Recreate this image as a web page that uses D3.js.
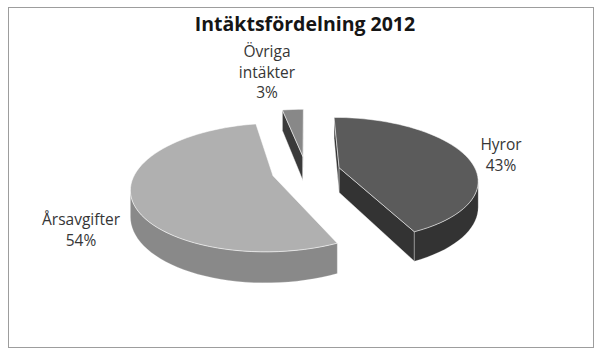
<!DOCTYPE html>
<html><head><meta charset="utf-8">
<script src="https://cdn.jsdelivr.net/npm/d3@7"></script>
<style>html,body{margin:0;padding:0;background:#fff}svg{display:block}</style>
</head><body>
<svg id="chart" width="600" height="350"></svg>
<script>
// ---- data ----
const chartTitle = "Intäktsfördelning 2012";
const categories = ["Hyror", "Årsavgifter", "Övriga intäkter"];
const values = [43, 54, 3];
const percentLabels = ["43%", "54%", "3%"];
const labelLines = [["Hyror"], ["Årsavgifter"], ["Övriga", "intäkter"]];

// ---- style / layout ----
const topColors = ["#5b5b5b", "#b0b0b0", "#888888"];
const sideColors = ["#333333", "#898989", "#3a3a3a"];
const P = {cx: 306, cy: 171, h: 137, s: 60.5, k: 0.18, depth: 25, explode: 0.25};
const labelLayout = [
  {x: 501, y: 150}, {x: 81, y: 225}, {x: 267, y: 57}
];
const lineGap = 20.5;

const svg = d3.select("#chart");
svg.append("rect").attr("x", 8.5).attr("y", 7.5).attr("width", 585).attr("height", 340)
  .attr("fill", "#fff").attr("stroke", "#9d9d9d").attr("stroke-width", 1);

svg.append("text").attr("x", 305).attr("y", 31).attr("text-anchor", "middle")
  .attr("font-family", "'Open Sans', sans-serif").attr("font-weight", 700)
  .attr("font-size", 19.5).attr("fill", "#151515").text(chartTitle);

// scales for projected plane coordinates
const xS = d3.scaleLinear().domain([-1, 1]).range([P.cx - P.h, P.cx + P.h]);
const yS = d3.scaleLinear().domain([-1, 1]).range([P.cy + P.s, P.cy - P.s]);
function proj(X, Z, low) {
  const w = 1 + P.k * Z;
  return [xS(X / w), yS(Z / w) + (low ? P.depth / w : 0)];
}

const pie = d3.pie().sort(null).startAngle(0).endAngle(2 * Math.PI);
const arcs = pie(values);
const line = d3.line();
const N = 120;
const cam = [0, -1 / P.k];

const order = [2, 1, 0];
order.forEach(i => {
  const a = arcs[i];
  const mid = (a.startAngle + a.endAngle) / 2;
  const c = [P.explode * Math.sin(mid), P.explode * Math.cos(mid)];
  const rim = (t, low) => proj(c[0] + Math.sin(t), c[1] + Math.cos(t), low);
  const apex = low => proj(c[0], c[1], low);
  const g = svg.append("g");
  const steps = Math.max(4, Math.ceil(N * (a.endAngle - a.startAngle) / (2 * Math.PI)));
  const ts = d3.range(steps + 1).map(j => a.startAngle + (a.endAngle - a.startAngle) * j / steps);

  // radial faces
  const faces = [
    {t: a.startAngle, n: [-Math.cos(a.startAngle), Math.sin(a.startAngle)]},
    {t: a.endAngle, n: [Math.cos(a.endAngle), -Math.sin(a.endAngle)]}
  ];
  faces.forEach(f => {
    const dot = (cam[0] - c[0]) * f.n[0] + (cam[1] - c[1]) * f.n[1];
    if (dot > 0) {
      const pts = [apex(false), rim(f.t, false), rim(f.t, true), apex(true)];
      g.append("path").attr("d", line(pts) + "Z").attr("fill", sideColors[i])
        .attr("stroke", "rgba(255,255,255,0.55)").attr("stroke-width", 0.8);
    }
  });

  // outer wall (visible part)
  const vis = t => (cam[0] - c[0]) * Math.sin(t) + (cam[1] - c[1]) * Math.cos(t) > 1;
  const fine = d3.range(0, 1001).map(j => a.startAngle + (a.endAngle - a.startAngle) * j / 1000);
  let runs = [], cur = null;
  fine.forEach(t => {
    if (vis(t)) { if (!cur) { cur = [t, t]; runs.push(cur); } else cur[1] = t; }
    else cur = null;
  });
  runs.forEach(r => {
    const m = Math.max(2, Math.ceil(N * (r[1] - r[0]) / (2 * Math.PI)));
    const tt = d3.range(m + 1).map(j => r[0] + (r[1] - r[0]) * j / m);
    const pts = tt.map(t => rim(t, false)).concat(tt.slice().reverse().map(t => rim(t, true)));
    g.append("path").attr("d", line(pts) + "Z").attr("fill", sideColors[i])
      .attr("stroke", "rgba(255,255,255,0.35)").attr("stroke-width", 0.6);
  });

  // top face
  const topPts = [apex(false)].concat(ts.map(t => rim(t, false)));
  g.append("path").attr("d", line(topPts) + "Z").attr("fill", topColors[i])
    .attr("stroke", "rgba(255,255,255,0.6)").attr("stroke-width", 0.9);
});

// labels
arcs.forEach((a, i) => {
  const lines = labelLines[i].concat([percentLabels[i]]);
  const t = svg.append("text").attr("text-anchor", "middle")
    .attr("font-family", "'Open Sans', sans-serif").attr("font-size", 15.5)
    .attr("fill", "#363636");
  lines.forEach((s, j) => {
    t.append("tspan").attr("x", labelLayout[i].x).attr("y", labelLayout[i].y + j * lineGap).text(s);
  });
});
</script>
</body></html>
